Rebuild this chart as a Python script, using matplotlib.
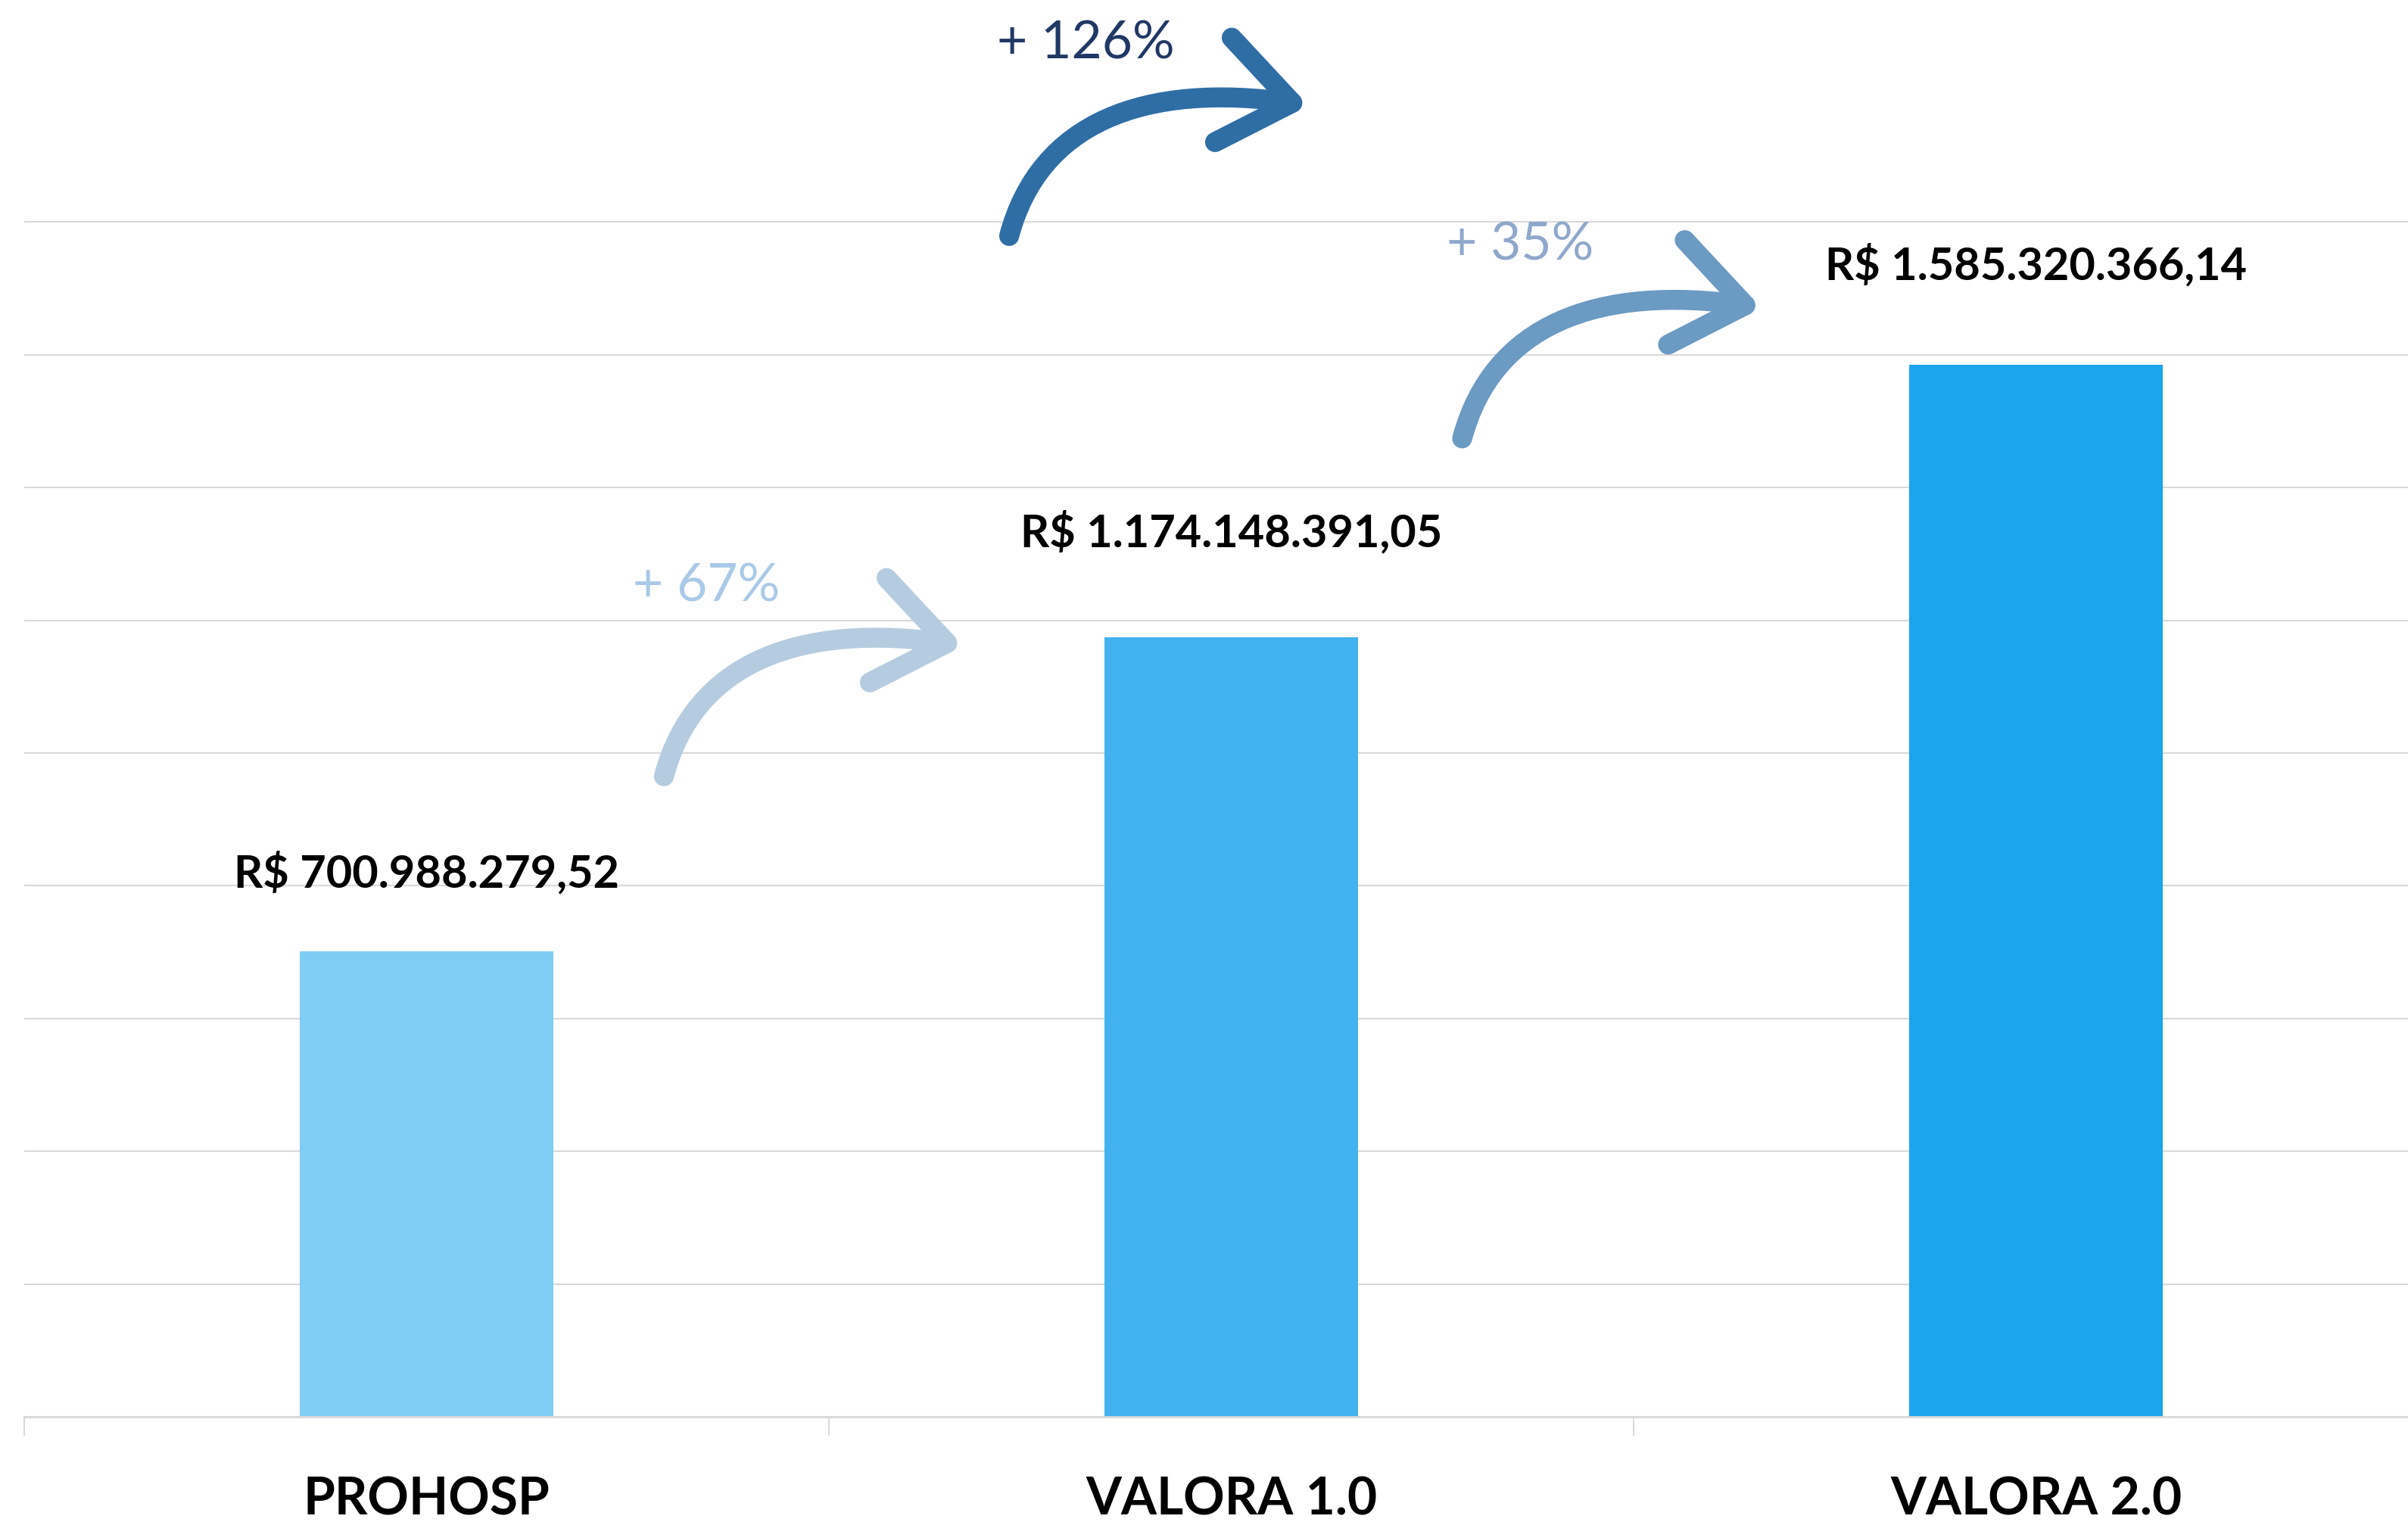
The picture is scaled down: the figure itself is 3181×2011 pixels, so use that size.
import matplotlib
matplotlib.use('Agg')
import matplotlib.pyplot as plt
from matplotlib import font_manager, transforms
from matplotlib.path import Path
from matplotlib.patches import PathPatch

# dados
categories = ['PROHOSP', 'VALORA 1.0', 'VALORA 2.0']
values = [700988279.52, 1174148391.05, 1585320366.14]
value_labels = ['R$ 700.988.279,52', 'R$ 1.174.148.391,05', 'R$ 1.585.320.366,14']
bar_colors = ['#7FCCF4', '#42B3F0', '#1AA5EC']

growth_labels = ['+ 67%', '+ 126%', '+ 35%']
growth_text_colors = ['#A9C9E8', '#203864', '#8FA8CC']
growth_arrow_colors = ['#B5CCE0', '#2F6EA5', '#6B9AC2']

# layout (x em unidades de categoria, y em R$)
arrow_tails = [(0.295, 965e6), (0.724, 1779e6), (1.287, 1474e6)]
growth_text_pos = [(0.348, 1251e6), (0.819, 2068e6), (1.359, 1765e6)]
label_offsets = [61, 86, 81]  # pt acima da barra (baseline)

names = {f.name for f in font_manager.fontManager.ttflist}
if 'Liberation Sans Narrow' in names:
    bold_font = 'Liberation Sans Narrow'
    val_size, cat_size = 47.5, 51
else:
    bold_font = 'Lato'
    val_size, cat_size = 42.8, 48.7
reg_font = 'Lato'

W, H = 3181, 2011
fig = plt.figure(figsize=(W / 100, H / 100), dpi=100)
ax = fig.add_axes([32 / W, 139 / H, 3189 / W, 1872 / H])

x = list(range(len(categories)))
ax.bar(x, values, width=0.315, color=bar_colors, zorder=2)

ax.set_xlim(-0.5, 2.5)
ax.set_ylim(0, 2134.5e6)
ax.set_yticks([i * 200e6 for i in range(10)])
ax.yaxis.grid(True, color='#D9D9D9', linewidth=1.5, zorder=0)
ax.set_axisbelow(True)
ax.tick_params(axis='y', length=0, labelleft=False)
for s in ['left', 'right', 'top']:
    ax.spines[s].set_visible(False)
ax.spines['bottom'].set_color('#D9D9D9')
ax.spines['bottom'].set_linewidth(2)

ax.set_xticks([-0.5, 0.5, 1.5, 2.5])
ax.tick_params(axis='x', length=18, width=1.5, color='#D9D9D9', labelbottom=False)

for i, cat in enumerate(categories):
    ax.annotate(cat, xy=(i, 0), xycoords=('data', 'axes fraction'),
                xytext=(0, -93.6), textcoords='offset points',
                ha='center', va='baseline', fontsize=cat_size,
                fontweight='bold', family=bold_font, color='black')

for i, (v, lab) in enumerate(zip(values, value_labels)):
    ax.annotate(lab, xy=(i, v), xytext=(0, label_offsets[i]),
                textcoords='offset points', ha='center', va='baseline',
                fontsize=val_size, fontweight='bold', family=bold_font,
                color='black', annotation_clip=False)

# setas curvas (formato em pixels, relativo a cauda)
shaft = [(0, 0), (40, 150), (178, 204), (374, 176)]
head = [(294, 262), (374, 176), (272, 124)]

def px(pts):
    return [(a / 100, b / 100) for a, b in pts]

for (tx, ty), col in zip(arrow_tails, growth_arrow_colors):
    trans = fig.dpi_scale_trans + transforms.ScaledTranslation(tx, ty, ax.transData)
    p1 = Path(px(shaft), [Path.MOVETO, Path.CURVE4, Path.CURVE4, Path.CURVE4])
    p2 = Path(px(head), [Path.MOVETO, Path.LINETO, Path.LINETO])
    for p in (p1, p2):
        patch = PathPatch(p, fill=False, edgecolor=col, linewidth=19,
                          capstyle='round', joinstyle='round',
                          transform=trans, zorder=4, clip_on=False)
        ax.add_patch(patch)

for (gx, gy), lab, col in zip(growth_text_pos, growth_labels, growth_text_colors):
    ax.text(gx, gy, lab, ha='center', va='center', fontsize=50,
            family=reg_font, color=col, zorder=5, clip_on=False)

fig.savefig('out.png', dpi=100)
